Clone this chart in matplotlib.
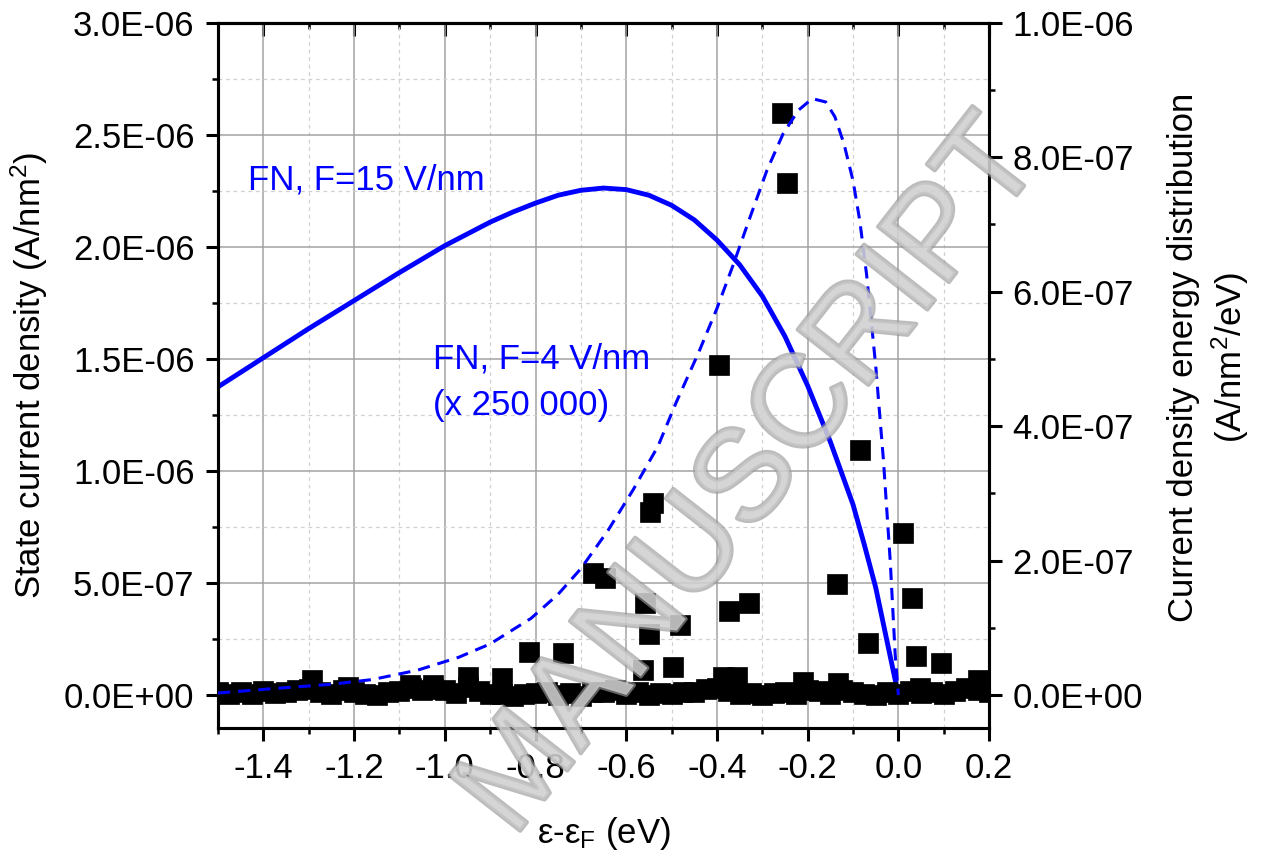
import numpy as np
import matplotlib.pyplot as plt
import matplotlib.patheffects as pe
from matplotlib import font_manager
from matplotlib.ticker import MultipleLocator, FuncFormatter

plt.rcParams['font.family'] = ['Liberation Sans', 'DejaVu Sans']
plt.rcParams['mathtext.fontset'] = 'custom'
plt.rcParams['mathtext.rm'] = 'Liberation Sans'
plt.rcParams['mathtext.it'] = 'Liberation Sans:italic'
plt.rcParams['mathtext.bf'] = 'Liberation Sans:bold'

# FN, F=15 V/nm : state current density (left axis, A/nm^2)
fn15_e = [-1.50, -1.40, -1.30, -1.20, -1.10, -1.00, -0.90, -0.85, -0.80, -0.75,
          -0.70, -0.65, -0.60, -0.55, -0.50, -0.45, -0.40, -0.35, -0.30, -0.25,
          -0.20, -0.15, -0.10, -0.075, -0.05, -0.025, 0.00]
fn15_j = np.array([1.375, 1.505, 1.635, 1.760, 1.885, 2.005, 2.110, 2.155, 2.195, 2.230,
                   2.252, 2.262, 2.255, 2.230, 2.185, 2.120, 2.030, 1.920, 1.780, 1.600,
                   1.380, 1.130, 0.850, 0.670, 0.480, 0.240, 0.000]) * 1e-6

# FN, F=4 V/nm (x 250 000) : energy distribution (right axis, A/nm^2/eV)
fn4_e = [-1.50, -1.37, -1.25, -1.16, -1.06, -0.97, -0.90, -0.81, -0.75, -0.70,
         -0.64, -0.585, -0.53, -0.49, -0.44, -0.40, -0.364, -0.33, -0.29, -0.254,
         -0.22, -0.19, -0.16, -0.14, -0.12, -0.10, -0.085, -0.07, -0.05, -0.033,
         -0.018, -0.007, 0.00]
fn4_j = np.array([0.003, 0.010, 0.016, 0.023, 0.037, 0.056, 0.076, 0.114, 0.150, 0.188,
                  0.245, 0.305, 0.370, 0.435, 0.510, 0.575, 0.640, 0.705, 0.780, 0.835,
                  0.870, 0.887, 0.882, 0.860, 0.820, 0.765, 0.705, 0.625, 0.490, 0.350,
                  0.200, 0.060, 0.000]) * 1e-6

# measured energy distribution (squares), baseline points
base_e = [-1.500, -1.475, -1.450, -1.425, -1.400, -1.375, -1.350, -1.325, -1.300, -1.275,
          -1.250, -1.225, -1.200, -1.175, -1.150, -1.125, -1.100, -1.075, -1.050, -1.025,
          -1.000, -0.975, -0.950, -0.925, -0.900, -0.875, -0.850, -0.825, -0.800, -0.775,
          -0.750, -0.725, -0.700, -0.675, -0.650, -0.625, -0.600, -0.575, -0.550, -0.525,
          -0.500, -0.475, -0.450, -0.425, -0.400, -0.375, -0.350, -0.325, -0.300, -0.275,
          -0.250, -0.225, -0.200, -0.175, -0.150, -0.125, -0.100, -0.075, -0.050, -0.025,
          0.000, 0.025, 0.050, 0.075, 0.100, 0.125, 0.150, 0.175, 0.200]
base_j = np.array([0.004, 0.001, 0.005, 0.002, 0.006, 0.003, 0.005, 0.007, 0.009, 0.004,
                   0.002, 0.008, 0.005, 0.001, 0.000, 0.004, 0.006, 0.010, 0.007, 0.009,
                   0.008, 0.003, 0.012, 0.006, 0.002, 0.001, -0.002, 0.001, 0.003, 0.004,
                   0.000, 0.003, -0.001, 0.004, 0.005, 0.007, 0.001, 0.004, 0.000, 0.003,
                   0.001, 0.004, 0.005, 0.009, 0.010, 0.006, 0.002, 0.003, 0.000, 0.003,
                   0.004, 0.002, 0.008, 0.006, 0.001, 0.007, 0.005, 0.001, 0.000, 0.004,
                   0.001, 0.006, 0.003, 0.004, 0.001, 0.006, 0.010, 0.008, 0.004]) * 1e-6

# measured energy distribution (squares), points above the baseline
peak_e = [-0.256, -0.246, -0.395, -0.541, -0.547, -0.084, 0.011, -0.135, 0.030, -0.067,
          0.039, 0.094, -0.373, -0.329, -0.558, -0.550, -0.481, -0.497, -0.563, -0.673,
          -0.647, -0.814, -0.739, -1.293, -1.213, -1.026, -0.949, -0.874, -1.077, -0.386,
          -0.356, -0.210, -0.133, 0.048, 0.176]
peak_j = np.array([0.866, 0.762, 0.491, 0.286, 0.272, 0.365, 0.241, 0.165, 0.144, 0.077,
                   0.058, 0.048, 0.125, 0.137, 0.137, 0.091, 0.104, 0.042, 0.037, 0.181,
                   0.174, 0.064, 0.0625, 0.022, 0.012, 0.015, 0.027, 0.025, 0.015, 0.027,
                   0.027, 0.019, 0.018, 0.010, 0.022]) * 1e-6

BLUE = '#0000ff'
FS = 25


def sci(v, pos):
    return f"{v:.1E}"


def one_dec(v, pos):
    if abs(v) < 1e-9:
        return "0.0"
    return f"{v:.1f}"


fig = plt.figure(figsize=(12.7, 8.61), dpi=100)
ax = fig.add_axes([0.1717, 0.1545, 0.6071, 0.8192])
ax2 = ax.twinx()

ax.set_xlim(-1.5, 0.2)
ax.set_ylim(-1.47e-7, 3.0e-6)
ax2.set_ylim(-0.49e-7, 1.0e-6)

# grid from the left axis
ax.set_axisbelow(True)
ax.grid(which='major', color='#a3a3a3', lw=1.1)
ax.grid(which='minor', color='#d0d0d0', lw=0.9, ls=(0, (3, 3)))

# curves and data
ax.plot(fn15_e, fn15_j, color=BLUE, lw=3.5, zorder=3)
ax2.plot(base_e + peak_e, np.concatenate([base_j, peak_j]), 's', color='black',
         ms=14.5, mew=0.5, ls='none', zorder=2)
ax2.plot(fn4_e, fn4_j, color=BLUE, lw=2.2, dashes=(4, 2.6), zorder=3)

ax.text(-1.434, 2.30e-6, 'FN, F=15 V/nm', color=BLUE, fontsize=FS, va='center')
ax.text(-1.026, 1.50e-6, 'FN, F=4 V/nm', color=BLUE, fontsize=FS, va='center')
ax.text(-1.026, 1.29e-6, '(x 250 000)', color=BLUE, fontsize=FS, va='center')

# ticks
ax.xaxis.set_major_locator(MultipleLocator(0.2))
ax.xaxis.set_minor_locator(MultipleLocator(0.1))
ax.xaxis.set_major_formatter(FuncFormatter(one_dec))
ax.yaxis.set_major_locator(MultipleLocator(5e-7))
ax.yaxis.set_minor_locator(MultipleLocator(2.5e-7))
ax.yaxis.set_major_formatter(FuncFormatter(sci))
ax2.yaxis.set_major_locator(MultipleLocator(2e-7))
ax2.yaxis.set_minor_locator(MultipleLocator(1e-7))
ax2.yaxis.set_major_formatter(FuncFormatter(sci))

for a in (ax, ax2):
    a.tick_params(which='major', direction='out', length=9, width=2.2, labelsize=FS, pad=8)
    a.tick_params(which='minor', direction='out', length=4.5, width=1.8)
    for s in a.spines.values():
        s.set_linewidth(2.2)

top = ax.secondary_xaxis('top')
top.xaxis.set_major_locator(MultipleLocator(0.2))
top.xaxis.set_minor_locator(MultipleLocator(0.1))
top.tick_params(which='major', direction='in', length=9, width=2.2, labeltop=False)
top.tick_params(which='minor', direction='in', length=4.5, width=1.8)
top.spines['top'].set_linewidth(2.2)

# labels
ax.set_xlabel('ε-ε$_\\mathrm{F}$ (eV)', fontsize=FS)
ax.xaxis.set_label_coords(0.5, -0.123)
ax.set_ylabel('State current density (A/nm$^2$)', fontsize=FS)
ax.yaxis.set_label_coords(-0.218, 0.5)
ax2.set_ylabel('Current density energy distribution\n(A/nm$^2$/eV)', fontsize=FS,
               linespacing=1.3)
ax2.yaxis.set_label_coords(1.231, 0.525)

# watermark
names = {f.name for f in font_manager.fontManager.ttflist}
wm_family = 'Liberation Sans Narrow' if 'Liberation Sans Narrow' in names else 'Liberation Sans'
wm_size = 114 if wm_family == 'Liberation Sans Narrow' else 94
fig.text(752 / 1270, 1 - 478 / 861, 'MANUSCRIPT', rotation=52, rotation_mode='anchor',
         ha='center', va='center', fontsize=wm_size, family=wm_family,
         color='#d0d0d0', alpha=0.65, zorder=10,
         path_effects=[pe.withStroke(linewidth=3, foreground='#999999', alpha=0.65)])

fig.savefig('out.png', dpi=100)
